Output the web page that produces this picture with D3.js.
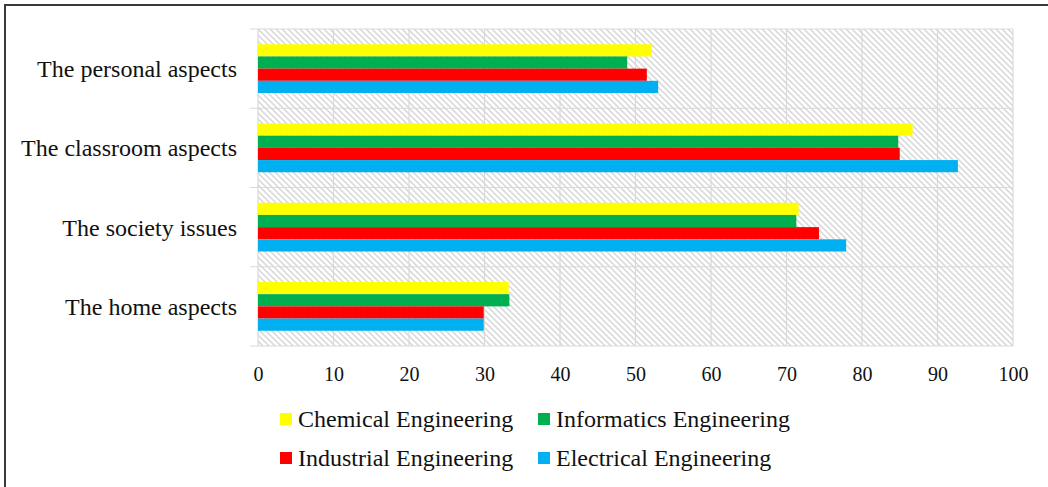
<!DOCTYPE html>
<html>
<head>
<meta charset="utf-8">
<script src="https://cdn.jsdelivr.net/npm/d3@7"></script>
<style>
  body { margin: 0; background: #fff; }
</style>
</head>
<body>
<div class="chart"></div>
<script>
// categories, top to bottom
var categories = ["The personal aspects", "The classroom aspects", "The society issues", "The home aspects"];
// series, in the order they are stacked inside each group (top first)
var seriesNames = ["Chemical Engineering", "Informatics Engineering", "Industrial Engineering", "Electrical Engineering"];
var seriesColors = ["#ffff00", "#00b050", "#ff0000", "#00b0f0"];

var chemical    = [52.1, 86.7, 71.6, 33.2];
var informatics = [48.9, 84.8, 71.3, 33.3];
var industrial  = [51.5, 85.0, 74.3, 29.9];
var electrical  = [53.0, 92.7, 77.9, 29.9];
var seriesValues = [chemical, informatics, industrial, electrical];

var xTicks = [0, 10, 20, 30, 40, 50, 60, 70, 80, 90, 100];

var serif = "'Liberation Serif', Tinos, 'Times New Roman', Times, serif";

var width = 1048, height = 487;
var margin = {top: 29, left: 258, right: 35, bottom: 141};
var plotW = width - margin.left - margin.right,
    plotH = height - margin.top - margin.bottom;

var svg = d3.select(".chart").append("svg")
    .attr("width", width)
    .attr("height", height);

// hatch pattern for plot background
var defs = svg.append("defs");
defs.append("pattern")
    .attr("id", "hatch")
    .attr("patternUnits", "userSpaceOnUse")
    .attr("width", 6)
    .attr("height", 6)
  .append("path")
    .attr("d", "M0,0 L6,6 M-1,5 L1,7 M5,-1 L7,1")
    .attr("stroke", "#d6d6d6")
    .attr("stroke-width", 1.5);

// outer frame (cut off at right/bottom)
svg.append("rect")
    .attr("x", 5).attr("y", 5)
    .attr("width", 1200).attr("height", 800)
    .attr("fill", "none")
    .attr("stroke", "#3a3a3a")
    .attr("stroke-width", 2);

var g = svg.append("g")
    .attr("transform", "translate(" + margin.left + "," + margin.top + ")");

var x = d3.scaleLinear().domain([0, 100]).range([0, plotW]);
var y = d3.scaleBand().domain(categories).range([0, plotH]).padding(0);
var ySub = d3.scaleBand().domain(seriesNames).range([0, y.bandwidth()])
    .paddingInner(0).paddingOuter(1.25);

g.append("rect")
    .attr("width", plotW)
    .attr("height", plotH)
    .attr("fill", "url(#hatch)");

// vertical grid
g.append("g").selectAll("line")
    .data(xTicks)
    .enter().append("line")
    .attr("x1", d => x(d)).attr("x2", d => x(d))
    .attr("y1", 0).attr("y2", plotH)
    .attr("stroke", "#d9d9d9")
    .attr("stroke-width", 1.2);

// horizontal band lines + category ticks
var bounds = categories.map(c => y(c)).concat([plotH]);
g.append("g").selectAll("line")
    .data(bounds)
    .enter().append("line")
    .attr("x1", -8).attr("x2", plotW)
    .attr("y1", d => d).attr("y2", d => d)
    .attr("stroke", "#d9d9d9")
    .attr("stroke-width", 1.2);

// bars
var groups = g.append("g").selectAll("g")
    .data(categories)
    .enter().append("g")
    .attr("transform", c => "translate(0," + y(c) + ")");

groups.selectAll("rect")
    .data((c, i) => seriesNames.map((s, j) => ({s: s, v: seriesValues[j][i], color: seriesColors[j]})))
    .enter().append("rect")
    .attr("x", 0)
    .attr("y", d => ySub(d.s))
    .attr("width", d => x(d.v))
    .attr("height", ySub.bandwidth())
    .attr("fill", d => d.color);

// category labels
var yAxis = d3.axisLeft(y).tickSize(0).tickPadding(21);
g.append("g").call(yAxis)
    .attr("font-family", serif)
    .call(a => a.select(".domain").remove())
    .selectAll("text")
    .style("font-family", serif)
    .style("font-size", "24px")
    .style("fill", "#111")
    .attr("dy", "0.35em");

// value axis labels
var xAxis = d3.axisBottom(x).tickValues(xTicks).tickSize(0).tickPadding(21);
g.append("g")
    .attr("transform", "translate(0," + plotH + ")")
    .call(xAxis)
    .attr("font-family", serif)
    .call(a => a.select(".domain").remove())
    .selectAll("text")
    .style("font-family", serif)
    .style("font-size", "20px")
    .style("fill", "#111");

// legend
var legendPos = [[280, 413], [538, 413], [280, 452], [538, 452]];
var legend = svg.append("g").selectAll("g")
    .data(seriesNames)
    .enter().append("g")
    .attr("transform", (d, i) => "translate(" + legendPos[i][0] + "," + legendPos[i][1] + ")");

legend.append("rect")
    .attr("width", 12).attr("height", 12)
    .attr("fill", (d, i) => seriesColors[i]);

legend.append("text")
    .attr("x", 18)
    .attr("y", 14)
    .style("font-family", serif)
    .style("font-size", "24px")
    .style("fill", "#111")
    .text(d => d);
</script>
</body>
</html>
